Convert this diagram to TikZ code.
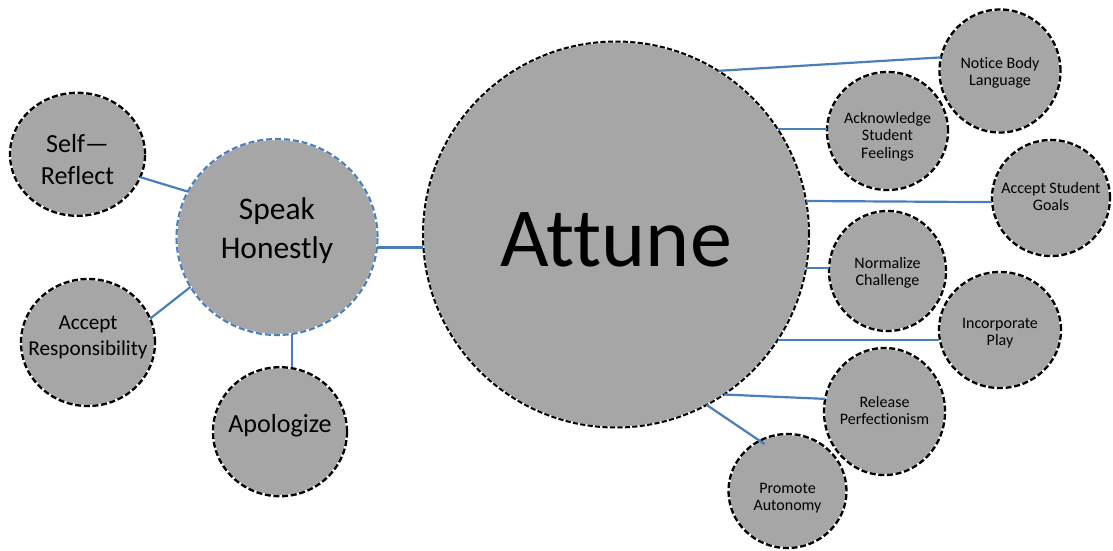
\documentclass[tikz,border=0pt]{standalone}
\usepackage{fontspec}
\setmainfont{Carlito}[Ligatures=NoCommon]
\usetikzlibrary{shapes.geometric}
\definecolor{fillg}{HTML}{A6A6A6}
\definecolor{linkb}{HTML}{4A7EBB}
% dy (px): distance of the first baseline above the node centre
\newcommand{\ctxt}[2]{\raisebox{\dimexpr #1pt*3/4\relax}[0pt][0pt]{\makebox[0pt]{\begin{tabular}[t]{@{}c@{}}#2\end{tabular}}}}
\tikzset{
  sz/.style 2 args={minimum width=#1*0.75pt,minimum height=#2*0.75pt},
  bub/.style={ellipse, inner sep=0pt, outer sep=0pt, text=black,
    preaction={fill=fillg, draw=white, solid, line width=1.75pt},
    draw=black, line width=1.75pt, dash pattern=on 4.5pt off 2pt},
  bigbub/.style={bub, line width=1.5pt, dash pattern=on 3.9pt off 1.7pt,
    preaction={fill=fillg, draw=white, solid, line width=1.5pt}},
  bluebub/.style={bub, draw=linkb, line width=1.6pt, dash pattern=on 4.5pt off 2.2pt,
    preaction={fill=fillg, draw=white, solid, line width=1.6pt}},
  link/.style={draw=linkb, line width=1.65pt},
  fsmall/.style={font=\fontsize{12}{13.1}\selectfont},
}
\begin{document}
\begin{tikzpicture}[x=0.75pt,y=-0.75pt]
\useasboundingbox (0,0) rectangle (1113,550);
% left cluster
\node[bluebub, sz={201}{196}, font=\fontsize{23.6}{29.25}\selectfont] (speak) at (277,237) {\ctxt{17.7}{Speak\\Honestly}};
\node[bub, sz={135}{123}, font=\fontsize{19.6}{24.5}\selectfont] (self) at (77.5,154.3) {\ctxt{2.3}{Self—\\Reflect}};
\node[bub, sz={134}{127}, font=\fontsize{15.9}{19.7}\selectfont] (resp) at (88,342.5) {\ctxt{13.5}{Accept\\Responsibility}};
\node[bub, sz={134}{129}, font=\fontsize{19.6}{24.5}\selectfont] (apol) at (280,431.7) {\ctxt{-1}{Apologize}};
% centre
\node[bigbub, sz={386}{386}, font=\fontsize{63}{70}\selectfont] (attune) at (616,234.5) {\ctxt{-32.2}{Attune}};
% right cluster
\node[bub, sz={121}{123}, fsmall] (notice) at (1000,71) {\ctxt{2.7}{Notice Body\\Language}};
\node[bub, sz={121}{118}, fsmall] (ack) at (887.5,131) {\ctxt{7.7}{Acknowledge\\Student\\Feelings}};
\node[bub, sz={118}{116}, fsmall] (goals) at (1051,198) {\ctxt{4.7}{Accept Student\\Goals}};
\node[bub, sz={117}{120}, fsmall] (norm) at (887.5,271) {\ctxt{2.7}{Normalize\\Challenge}};
\node[bub, sz={122}{116}, fsmall] (incorp) at (1000,330) {\ctxt{1.7}{Incorporate\\Play}};
\node[bub, sz={121}{127}, fsmall] (release) at (884.5,411.5) {\ctxt{4.2}{Release\\Perfectionism}};
\node[bub, sz={118}{114}, fsmall] (promote) at (787.5,491) {\ctxt{-2.3}{Promote\\Autonomy}};
% connectors
\draw[link] (self.-20) -- (speak.153);
\draw[link] (resp.21) -- (speak.210);
\draw[link] (speak.-81) -- (speak.-81 |- apol.north);
\draw[link] (speak.-6) -- (attune.west |- speak.-6);
\draw[link] (attune.58.5) -- (notice.167.6);
\draw[link] (attune.33) -- (attune.33 -| ack.west);
\draw[link] (attune.10.4) -- (goals.184);
\draw[link] (attune.-10.7) -- (attune.-10.7 -| norm.west);
\draw[link] (attune.-33) -- (attune.-33 -| incorp.west);
\draw[link] (attune.-56.8) -- (release.168.4);
\draw[link, shorten >=-4.5pt] (attune.-62) -- (promote.119.4);
\end{tikzpicture}
\end{document}
